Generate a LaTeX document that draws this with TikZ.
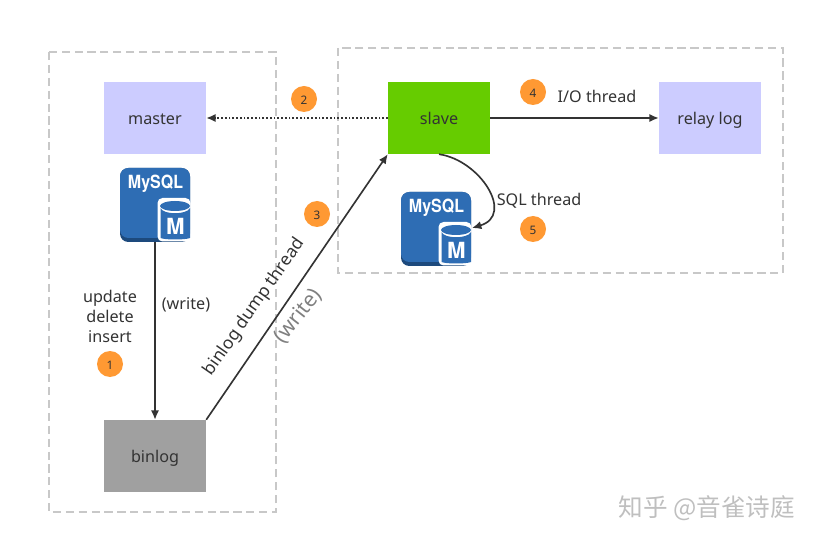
\documentclass[tikz,border=0pt]{standalone}
\usepackage{fontspec}
\usepackage{xcolor}
\usepackage{tikz}
\usetikzlibrary{arrows.meta}
\setmainfont{Noto Sans}
\newfontfamily\cjkfont{Noto Sans CJK SC}
\newfontfamily\logofont{TeX Gyre Heros}
\definecolor{boxblue}{HTML}{CCCCFF}
\definecolor{boxgreen}{HTML}{66CC00}
\definecolor{boxgray}{HTML}{A0A0A0}
\definecolor{dotorange}{HTML}{FF9933}
\definecolor{inkdark}{HTML}{333333}
\definecolor{framegray}{HTML}{C8C8C8}
\definecolor{sqlblue}{HTML}{2E6DB4}
\definecolor{sqldark}{HTML}{1D4A7D}
\tikzset{
	every node/.style={font=\fontsize{13.8pt}{15pt}\selectfont,text=inkdark,text height=14pt,text depth=3pt},
	frame/.style={draw=framegray,line width=1.5pt,dash pattern=on 7pt off 4pt},
	block/.style={minimum width=3.06cm,minimum height=2.16cm,inner sep=0pt},
	badge/.style={circle,fill=dotorange,minimum size=0.78cm,inner sep=0pt,font=\fontsize{10pt}{12pt}\selectfont,text height=11pt,text depth=2pt},
	link/.style={draw=inkdark,line width=1.4pt,-{Latex[length=8pt,width=7pt]}},
	mysql/.pic={
		\fill[sqldark,rounded corners=0.25cm] (-35,-37) rectangle (35,37);
		\fill[sqlblue,rounded corners=0.25cm] (-35,-37) rectangle (35,33);
		\fill[white,rounded corners=0.15cm] (2.5,-7) rectangle (35.5,36.5);
		\fill[sqlblue] (20,1) ellipse (15 and 5);
		\fill[sqlblue] (5.5,3) .. controls (8,10) and (32,10) .. (35,3) -- (35,33) .. controls (30,35) and (10,35) .. (5.5,33) -- cycle;
		\node[xscale=0.88,text=white,text height=10pt,text depth=0pt,font=\fontsize{15.5pt}{16pt}\logofont\bfseries] at (0.5,-22) {MySQL};
		\node[text=white,text height=14pt,text depth=0pt,font=\fontsize{19pt}{20pt}\logofont\bfseries] at (20.5,21) {M};
		\coordinate (-south) at (0,37);
		\coordinate (-east) at (36,-1);
	}
}
\begin{document}
\begin{tikzpicture}[x=0.03cm,y=-0.03cm]
	\useasboundingbox (0,0) rectangle (816,544);
	\draw[frame] (49,52) rectangle (276,512);
	\draw[frame] (338,48) rectangle (783,273);
	% boxes
	\node[block,fill=boxblue] (master) at (155,118) {master};
	\node[block,fill=boxgreen] (slave) at (439,118) {slave};
	\node[block,fill=boxblue] (relay) at (710,118) {relay log};
	\node[block,fill=boxgray] (binlog) at (155,456) {binlog};
	\pic (sqlA) at (155,205) {mysql};
	\pic (sqlB) at (436,229) {mysql};
	% arrows
	\draw[draw=inkdark,line width=1.4pt,dash pattern=on 1.5pt off 1.7pt,-{Latex[length=8pt,width=7pt]}] (slave.west) -- (master.east);
	\draw[link] (slave.east) -- (relay.west);
	\draw[link] (sqlA-south) -- (binlog.north);
	\draw[link] (binlog.north east) -- (slave.south west);
	\draw[link] (slave.south) .. controls (480,160) and (515,215) .. (sqlB-east);
	% labels
	\node (update) at (110,296) {update};
	\node (delete) at (110,316) {delete};
	\node (insert) at (110,336) {insert};
	\node (writeA) at (186,303) {(write)};
	\node (iothread) at (597,96) {I/O thread};
	\node (sqlthread) at (539,199) {SQL thread};
	\node[rotate=55,font=\fontsize{14.8pt}{16pt}\selectfont] (dump) at (253,306) {binlog dump thread};
	\node[rotate=52,text=gray,font=\fontsize{18pt}{20pt}\selectfont] (writeB) at (298,316) {(write)};
	% numbers
	\node[badge] (one) at (110,364) {1};
	\node[badge] (two) at (304,99) {2};
	\node[badge] (three) at (317,214) {3};
	\node[badge] (four) at (533,92) {4};
	\node[badge] (five) at (533,229) {5};
	% watermark
	\node[text=black!25,font=\fontsize{21pt}{24pt}\cjkfont] (mark) at (707,510) {知乎 @音雀诗庭};
\end{tikzpicture}
\end{document}
